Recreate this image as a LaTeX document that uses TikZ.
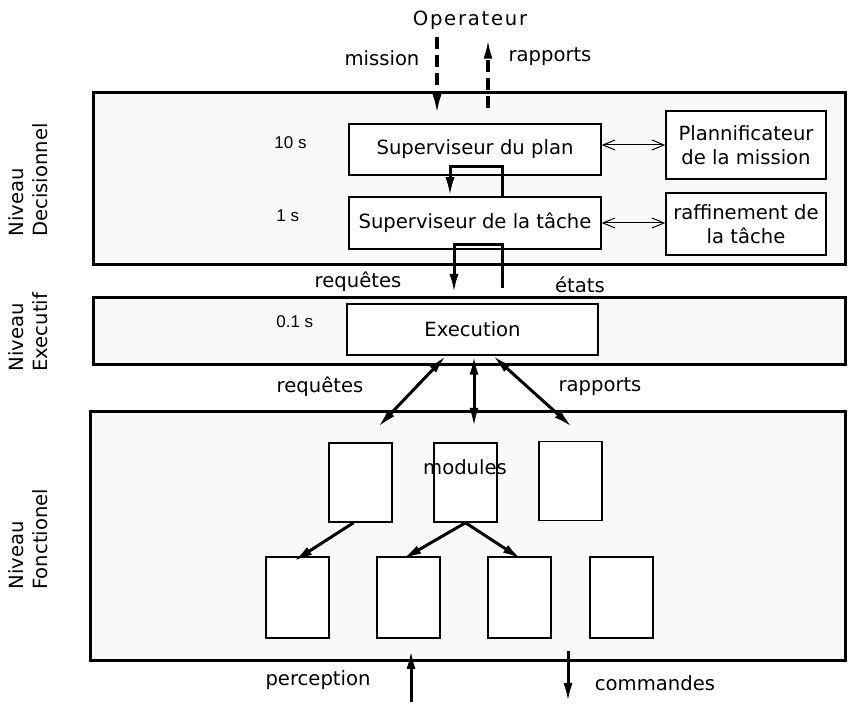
\documentclass[tikz,border=0pt]{standalone}
\usepackage{fontspec}
\setmainfont{DejaVu Sans}
\newfontfamily\petite{Liberation Sans}
\newfontfamily\espace[LetterSpace=9]{DejaVu Sans}
\usetikzlibrary{positioning,arrows.meta}
\definecolor{fondniveau}{HTML}{F9F9F9}
\tikzset{
  niveau/.style={draw,line width=1.5pt,fill=fondniveau},
  boite/.style={draw,line width=0.75pt,fill=white,inner sep=0pt,align=center},
  module/.style={boite,minimum width=31.5pt,minimum height=40pt},
  fleche/.style={-{Latex[length=9.5pt,width=4.5pt]},line width=1.5pt},
  double/.style={{Latex[length=9.5pt,width=4.5pt]}-{Latex[length=9.5pt,width=4.5pt]},line width=1.5pt},
  tirets/.style={-{Latex[length=10pt,width=4.5pt]},line width=1.6pt,dash pattern=on 6pt off 3pt},
  lien/.style={{Straight Barb[length=6pt,width=5pt]}-{Straight Barb[length=6pt,width=5pt]},line width=0.5pt},
  temps/.style={font=\petite\fontsize{8.5}{10}\selectfont,anchor=west,inner sep=0pt},
  titre/.style={rotate=90,align=left,anchor=west,inner sep=0pt}
}
\begin{document}
\begin{tikzpicture}[x=0.5pt,y=-0.5pt,font=\fontsize{9.8}{12}\selectfont]
        \useasboundingbox (0,0) rectangle (848,705);
        % niveaux
        \draw[niveau] (93,93) rectangle (845,265);
        \draw[niveau] (93,298) rectangle (845,365);
        \draw[niveau] (90,412) rectangle (845,661);

        \node[titre] (tdec) at (28,237) {Niveau\\Decisionnel};
        \node[titre] (texe) at (28,372) {Niveau\\Executif};
        \node[titre] (tfon) at (28,590) {Niveau\\Fonctionel};

        % niveau decisionnel
        \node[boite,minimum width=126pt,minimum height=25.5pt] (plan) at (475,149.5) {Superviseur du plan};
        \node[boite,minimum width=126pt,minimum height=26pt] (tache) at (475,223) {Superviseur de la tâche};
        \node[boite,minimum width=80pt,minimum height=34pt] (planif) at (746,145) {Plannificateur\\de la mission};
        \node[boite,minimum width=80pt,minimum height=31pt] (raffin) at (746,224) {raffinement de\\la tâche};
        \node[temps] (t10) at (274,143) {10 s};
        \node[temps] (t1) at (276,216) {1 s};

        \draw[lien] (plan.east |- planif.west) -- (planif.west);
        \draw[lien] (tache.east) -- (raffin.west |- tache.east);

        % operateur
        \node[font=\espace\fontsize{9.8}{12}\selectfont,inner sep=0pt] (op) at (470,20) {Operateur};
        \node (mission) at (382,58) {mission};
        \node (rapop) at (550,57) {rapports};
        \coordinate (mis) at (437,37);
        \coordinate (rap) at (488,108);
        \draw[tirets] (mis) -- ([yshift=4.5pt]mis |- plan.north);
        \draw[tirets] (rap) -- ([yshift=-4.5pt]rap |- op.south);

        % boucles
        \coordinate (hd1) at (502,167);
        \coordinate (hg1) at (450,167);
        \draw[fleche] (hd1 |- tache.north) -- (hd1) -- (hg1) -- (hg1 |- tache.north);
        \coordinate (hd2) at (502,245);
        \coordinate (hg2) at (454,245);
        \coordinate (bd2) at (502,288);
        \coordinate (bg2) at (454,293);
        \draw[fleche] (bd2) -- (hd2) -- (hg2) -- (bg2);
        \node (req1) at (358,282) {requêtes};
        \node (etats) at (580,285) {états};

        % niveau executif
        \node[boite,minimum width=125.5pt,minimum height=25.5pt] (exec) at (472.5,329.5) {Execution};
        \node[temps] (t01) at (276,322) {0.1 s};

        \coordinate (fg) at (378,427);
        \coordinate (fm) at (474,427);
        \coordinate (fd) at (572,427);
        \draw[double] ([xshift=-13.25pt]exec.south) -- (fg);
        \draw[double] (exec.south -| fm) -- (fm);
        \draw[double] ([xshift=10.25pt]exec.south) -- (fd);
        \node (req2) at (320,387) {requêtes};
        \node (rap2) at (600,387) {rapports};

        % niveau fonctionel
        \node[module,minimum height=39.5pt] (m1) at (360.5,482.5) {};
        \node[module,minimum height=39.5pt] (m2) at (465.5,482.5) {};
        \node[module,minimum height=39.5pt] (m3) at (570.5,481) {};
        \node (modules) at (465,467) {modules};
        \node[module,minimum height=40.5pt] (b1) at (297.5,597.5) {};
        \node[module,minimum height=40.5pt] (b2) at (408.5,597.5) {};
        \node[module,minimum height=40.5pt] (b3) at (519.5,597.5) {};
        \node[module,minimum height=40.5pt] (b4) at (621.5,597.5) {};

        \draw[fleche] ([xshift=-3.5pt]m1.south) -- ([xshift=-2pt,yshift=-2.5pt]b1.north);
        \draw[fleche] (m2.south) -- ([xshift=-3pt,yshift=-1.5pt]b2.north);
        \draw[fleche] (m2.south) -- ([xshift=1pt,yshift=-1.5pt]b3.north);

        % perception et commandes
        \coordinate (pb) at (411,702);
        \coordinate (ph) at (411,650);
        \coordinate (ch) at (568,651);
        \coordinate (cb) at (568,702);
        \draw[fleche] (pb) -- (ph);
        \draw[fleche] (ch) -- (cb);
        \node (perc) at (318,680) {perception};
        \node (comm) at (655,683) {commandes};
\end{tikzpicture}
\end{document}
